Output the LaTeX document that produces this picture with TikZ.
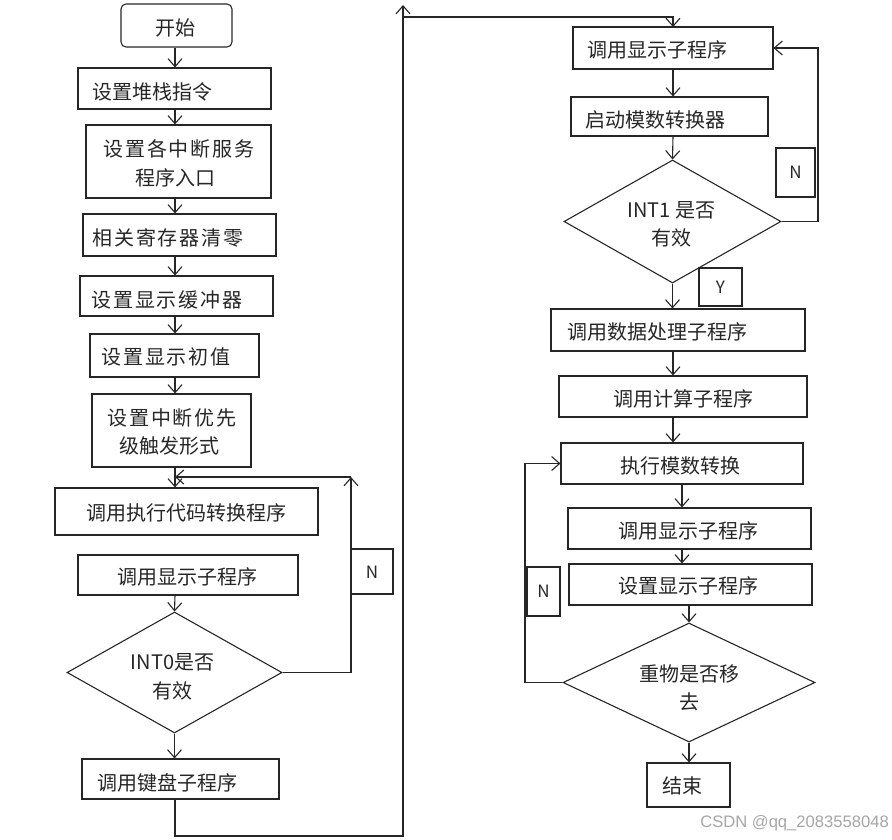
\documentclass[tikz,border=0pt]{standalone}
\usepackage{fontspec}
\setmainfont{Noto Sans CJK SC}
\newfontfamily\wmfont{Liberation Sans}
\usetikzlibrary{arrows.meta,shapes.geometric,fit}
\tikzset{
 box/.style={draw=black!85, line width=1.1pt, inner sep=0pt},
 rbox/.style={box, rounded corners=5pt},
 dia/.style={diamond, draw=black!85, line width=1.1pt, inner sep=0pt},
 txt/.style={inner sep=0pt, text=black!85, font=\fontsize{20}{28.5}\selectfont, align=center},
 wtxt/.style={inner sep=0pt, text=black!85, font=\fontsize{20}{28.5}\selectfont\addfontfeature{LetterSpace=9}, align=center},
 lbl/.style={inner sep=0pt, text=black!85, font=\fontsize{17}{20}\selectfont},
 arr/.style={draw=black!85, line width=1.1pt, -{Straight Barb[length=8pt,width=14pt]}},
}
\begin{document}
\begin{tikzpicture}[x=1pt,y=-1pt]
\useasboundingbox (0,0) rectangle (892,839);
% column coordinates
\coordinate (xl) at (175,0);
\coordinate (xa) at (673,0);
\coordinate (xb) at (682,0);
\coordinate (xc) at (689,0);
% ---------------- left column
\node[rbox, fit={(121,4) (232,47)}] (start) {};
\node[txt] (tstart) at (175,28) {开始};
\node[box, fit={(78,68) (271,109)}] (b1) {};
\node[txt] (t1) at (152,92) {设置堆栈指令};
\node[box, fit={(86,125) (271,198)}] (b2) {};
\node[txt] (t2a) at (179,149) {\addfontfeature{LetterSpace=9}设置各中断服务};
\node[txt] (t2b) at (175,177.5) {程序入口};
\node[box, fit={(83,214) (276,256)}] (b3) {};
\node[wtxt] (t3) at (168,238) {相关寄存器清零};
\node[box, fit={(80,276) (273,316)}] (b4) {};
\node[wtxt] (t4) at (167,300) {设置显示缓冲器};
\node[box, fit={(90,334) (259,377)}] (b5) {};
\node[wtxt] (t5) at (166,357) {设置显示初值};
\node[box, fit={(92,394) (251,467)}] (b6) {};
\node[txt] (t6a) at (172,417.5) {\addfontfeature{LetterSpace=9}设置中断优先};
\node[txt] (t6b) at (169,446) {级触发形式};
\node[box, fit={(55,488) (318,535)}] (b7) {};
\node[txt] (t7) at (186,512.5) {调用执行代码转换程序};
\node[box, fit={(78,555) (298,595)}] (b8) {};
\node[txt] (t8) at (187.5,577) {调用显示子程序};
\node[dia, minimum width=215pt, minimum height=121pt] (d1) at (174.5,672.5) {};
\node[txt] (td1) at (172.5,677) {INT0是否\\有效};
\node[box, fit={(82,759) (279,799)}] (b9) {};
\node[txt] (t9) at (167,783) {调用键盘子程序};
\node[box, fit={(351,549) (393,594)}] (n1) {};
\node[lbl] (tn1) at (372,572) {N};
% left connectors
\draw[arr] (start.south -| xl) -- (b1.north -| xl);
\draw[arr] (b1.south -| xl) -- (b2.north -| xl);
\draw[arr] (b2.south -| xl) -- (b3.north -| xl);
\draw[arr] (b3.south -| xl) -- (b4.north -| xl);
\draw[arr] (b4.south -| xl) -- (b5.north -| xl);
\draw[arr] (b5.south -| xl) -- (b6.north -| xl);
\draw[arr] (b6.south -| xl) -- (b7.north -| xl);
\draw[arr] (b8.south -| xl) -- (d1.north);
\draw[arr] (d1.south) -- (b9.north -| d1.south);
\coordinate (l1) at (351,477);
\draw[arr] (d1.east) -| (l1);
\draw[arr] (l1) -- (l1 -| xl);
% long connector to right column
\coordinate (by) at (0,836);
\coordinate (tp) at (403,5);
\coordinate (tq) at (403,17);
\draw[arr] (b9.south -| xl) -- (xl |- by) -- (tp |- by) -- (tp);
\draw[arr] (tq) -| (xa |- 0,27);
% ---------------- right column
\node[box, fit={(573,27) (773,69)}] (r1) {};
\node[txt] (tr1) at (657,50) {调用显示子程序};
\node[box, fit={(571,97) (768,136)}] (r2) {};
\node[txt] (tr2) at (655,120) {启动模数转换器};
\node[dia, minimum width=217pt, minimum height=123pt] (d2) at (672.5,221.5) {};
\node[txt] (td2) at (671.5,224.5) {INT1 是否\\有效};
\node[box, fit={(776,148) (815,197)}] (n2) {};
\node[lbl] (tn2) at (795.5,172.5) {N};
\node[box, fit={(699,268) (742,306)}] (y2) {};
\node[lbl] (ty2) at (720.5,287) {Y};
\node[box, fit={(551,309) (805,351)}] (r3) {};
\node[txt] (tr3) at (657,332) {调用数据处理子程序};
\node[box, fit={(559,376) (807,417)}] (r4) {};
\node[txt] (tr4) at (683,399) {调用计算子程序};
\node[box, fit={(561,443) (803,484)}] (r5) {};
\node[txt] (tr5) at (680,466) {执行模数转换};
\node[box, fit={(568,508) (811,549)}] (r6) {};
\node[txt] (tr6) at (688,531) {调用显示子程序};
\node[box, fit={(569,564) (812,605)}] (r7) {};
\node[txt] (tr7) at (688,586) {设置显示子程序};
\node[box, fit={(527,567) (560,616)}] (n3) {};
\node[lbl] (tn3) at (543.5,591.5) {N};
\node[dia, minimum width=252pt, minimum height=119pt] (d3) at (689,682.5) {};
\node[txt] (td3) at (689.5,688) {重物是否移\\去};
\node[box, fit={(647,763) (730,807)}] (r8) {};
\node[txt] (tr8) at (682,786) {结束};
% right connectors
\draw[arr] (r1.south -| xa) -- (r2.north -| xa);
\draw[arr] (r2.south -| xa) -- (d2.north);
\draw[arr] (d2.south) -- (r3.north -| d2.south);
\draw[arr] (r3.south -| xa) -- (r4.north -| xa);
\draw[arr] (r4.south -| xa) -- (r5.north -| xa);
\draw[arr] (r5.south -| xb) -- (r6.north -| xb);
\draw[arr] (r6.south -| xb) -- (r7.north -| xb);
\draw[arr] (r7.south -| xc) -- (d3.north);
\draw[arr] (d3.south) -- (r8.north -| d3.south);
\coordinate (rx) at (818,0);
\draw[arr] (d2.east) -| (r1.east -| rx) -- (r1.east);
\coordinate (lx) at (525,0);
\draw[arr] (d3.west) -| (r5.west -| lx) -- (r5.west);
% watermark text
\node[inner sep=0pt, text=black!35, font=\wmfont\fontsize{16.6}{18}\selectfont, anchor=east] (wm) at (889,823) {CSDN @qq\_2083558048};
\end{tikzpicture}
\end{document}
